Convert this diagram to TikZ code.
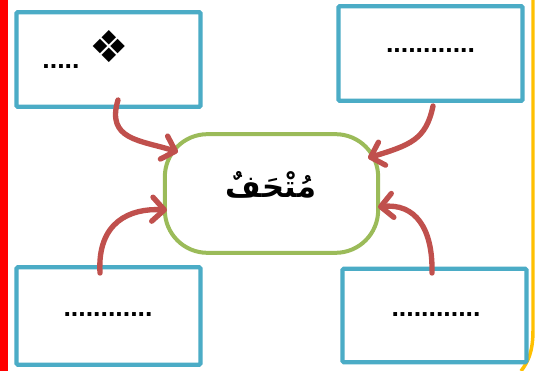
\documentclass[tikz,border=0pt]{standalone}
\usepackage{fontspec}
\setmainfont{Liberation Sans}
\newfontfamily\arabicfont[Script=Arabic]{DejaVu Sans}
\newfontfamily\symfont{DejaVu Sans}
\TeXXeTstate=1
\usetikzlibrary{arrows.meta}
\definecolor{boxblue}{HTML}{4BACC6}
\definecolor{arrred}{HTML}{C0504D}
\definecolor{cgreen}{HTML}{9BBB59}
\definecolor{edgeorange}{HTML}{FFC000}
\begin{document}
\begin{tikzpicture}[x=0.75pt,y=-0.75pt,
  infobox/.style={draw=boxblue,line width=3.2pt,fill=white,inner sep=0pt,rounded corners=1pt},
  arr/.style={draw=arrred,line width=4pt,line cap=round,-{Straight Barb[length=9pt,width=18pt,line cap=round,line join=round]}},
  dots/.style={font=\fontsize{20}{24}\bfseries}]
\useasboundingbox (0,0) rectangle (537,371);
\fill[white] (0,0) rectangle (537,371);
% page edges
\fill[red] (0,0) rectangle (8,371);
\draw[edgeorange,line width=2.6pt] (533,0) -- (533,330) .. controls (533,352) and (528,362) .. (521,371);
% boxes
\node[infobox,minimum width=138pt,minimum height=71pt] (tl) at (108.5,59.5) {};
\node[infobox,minimum width=138pt,minimum height=71pt] (tr) at (430.5,53.5) {};
\node[infobox,minimum width=138pt,minimum height=73pt] (bl) at (108.5,316) {};
\node[infobox,minimum width=138pt,minimum height=70pt] (br) at (434.5,315.5) {};
% center
\node[draw=cgreen,line width=3pt,fill=white,rounded corners=32pt,minimum width=160pt,minimum height=89pt,inner sep=0pt] (c) at (271.5,193.5) {};
\node (ct) at (271,185) {\fontsize{23}{28}\arabicfont\bfseries\beginR مُتْحَفٌ\endR};
% texts
\node[dots,anchor=base] (t1) at (61,69) {.....};
\node[anchor=center,inner sep=0pt] (t1s) at (109,47) {\fontsize{33}{36}\symfont ❖};
\node[dots,anchor=base] (t2) at (430.5,52) {............};
\node[dots,anchor=base] (t3) at (108,316) {............};
\node[dots,anchor=base] (t4) at (436,316) {............};
% arrows
\coordinate (a1s) at (118,100);
\coordinate (a1e) at (178,152);
\coordinate (a2s) at (433,106);
\coordinate (a2e) at (368,158);
\coordinate (a3s) at (100,273);
\coordinate (a3e) at (167,210);
\coordinate (a4s) at (432,273);
\coordinate (a4e) at (378,207);
\draw[arr] (a1s) .. controls (106,140) and (140,140) .. (a1e);
\draw[arr] (a2s) .. controls (426,140) and (410,145) .. (a2e);
\draw[arr] (a3s) .. controls (97,222) and (130,208) .. (a3e);
\draw[arr] (a4s) .. controls (433,228) and (415,203) .. (a4e);
\end{tikzpicture}
\end{document}
